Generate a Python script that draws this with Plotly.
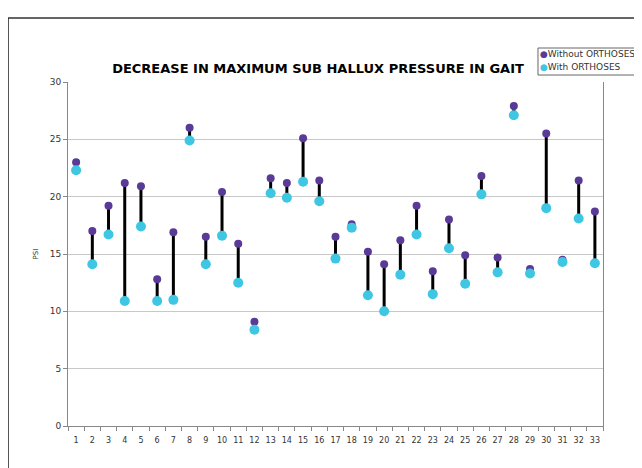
import plotly.graph_objects as go

subjects = [str(i) for i in range(1, 34)]
without_orthoses = [23.0, 17.0, 19.2, 21.2, 20.9, 12.8, 16.9, 26.0, 16.5, 20.4, 15.9,
                    9.1, 21.6, 21.2, 25.1, 21.4, 16.5, 17.6, 15.2, 14.1, 16.2, 19.2,
                    13.5, 18.0, 14.9, 21.8, 14.7, 27.9, 13.7, 25.5, 14.5, 21.4, 18.7]
with_orthoses = [22.3, 14.1, 16.7, 10.9, 17.4, 10.9, 11.0, 24.9, 14.1, 16.6, 12.5,
                 8.4, 20.3, 19.9, 21.3, 19.6, 14.6, 17.3, 11.4, 10.0, 13.2, 16.7,
                 11.5, 15.5, 12.4, 20.2, 13.4, 27.1, 13.3, 19.0, 14.3, 18.1, 14.2]
y_ticks = [0, 5, 10, 15, 20, 25, 30]
series_names = ["Without ORTHOSES", "With ORTHOSES"]
series_colors = ["#5a3a97", "#3ec6e3"]

FONT = "DejaVu Sans"

# connector lines built from data
lx, ly = [], []
for s, a, b in zip(subjects, without_orthoses, with_orthoses):
    lx += [s, s, None]
    ly += [a, b, None]

fig = go.Figure()
fig.add_trace(go.Scatter(x=lx, y=ly, mode="lines", line=dict(color="black", width=3),
                         showlegend=False, hoverinfo="skip"))
fig.add_trace(go.Scatter(x=subjects, y=without_orthoses, mode="markers", name=series_names[0],
                         marker=dict(color=series_colors[0], size=8), showlegend=False))
fig.add_trace(go.Scatter(x=subjects, y=with_orthoses, mode="markers", name=series_names[1],
                         marker=dict(color=series_colors[1], size=10), showlegend=False))

# compact legend box (Excel style)
legend_rows_y = [1.0814, 1.0436]
annotations = []
for name, col, yy in zip(series_names, series_colors, legend_rows_y):
    annotations.append(dict(
        xref="paper", yref="paper", x=0.8785, y=yy, xanchor="left", yanchor="middle",
        showarrow=False,
        text=f"<span style='color:{col}'>●</span>{name}",
        font=dict(family=FONT, size=9, color="#333333")))

fig.update_layout(
    width=634, height=460,
    margin=dict(l=60, r=39, t=74, b=42),
    paper_bgcolor="white", plot_bgcolor="white",
    font=dict(family=FONT, color="#333333"),
    showlegend=False,
    title=dict(text="<b>DECREASE IN MAXIMUM SUB HALLUX PRESSURE IN GAIT</b>",
               font=dict(family=FONT, size=13, color="black"),
               x=310 / 634, xref="container", xanchor="center",
               y=1 - 60 / 460, yref="container", yanchor="middle"),
    xaxis=dict(type="category", categoryorder="array", categoryarray=subjects,
               range=[-0.5, 32.5], tickson="boundaries", ticks="outside", ticklen=4,
               tickangle=0, ticklabelstandoff=6,
               tickcolor="#888888", showline=True, linecolor="#888888", linewidth=1,
               showgrid=False, tickfont=dict(family=FONT, size=8, color="#333333"),
               zeroline=False),
    yaxis=dict(range=[0, 30], tickvals=y_ticks, ticks="outside", ticklen=4,
               tickcolor="#888888", showline=True, linecolor="#888888", linewidth=1,
               mirror=True, showgrid=True, gridcolor="#c8c8c8", gridwidth=1,
               zeroline=False, tickfont=dict(family=FONT, size=9, color="#333333"),
               title=dict(text="PSI", font=dict(family=FONT, size=7, color="#333333"),
                          standoff=10)),
    annotations=annotations,
    shapes=[
        dict(type="rect", xref="paper", yref="paper", x0=-0.112, x1=1.3, y0=-0.3, y1=1.186,
             line=dict(color="#333333", width=1.5), layer="below"),
        dict(type="rect", xref="paper", yref="paper", x0=0.8785, x1=1.075, y0=1.0203, y1=1.0988,
             line=dict(color="#666666", width=1), fillcolor="white", layer="below"),
    ],
)

fig.write_html("out.html")
